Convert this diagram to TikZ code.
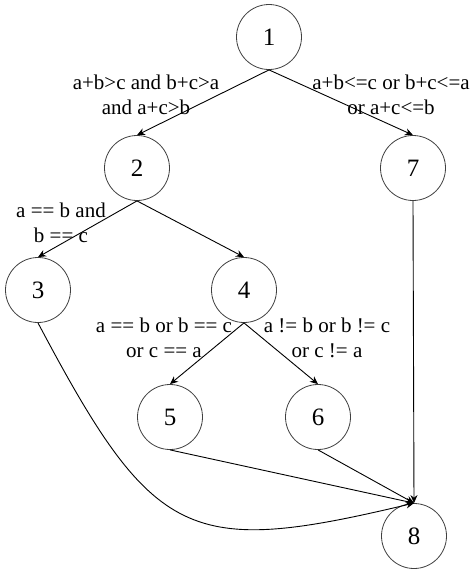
\documentclass[tikz,border=0pt]{standalone}
\usepackage{fontspec}
\setmainfont{Liberation Serif}
\usetikzlibrary{arrows.meta}
\begin{document}
\begin{tikzpicture}[x=1pt,y=-1pt,
  vtx/.style={circle,draw=black!75,line width=0.8pt,minimum size=65pt,inner sep=0pt,font=\fontsize{25}{25}\selectfont},
  lbl/.style={align=center,inner sep=0pt,font=\fontsize{21}{25}\selectfont},
  edge/.style={line width=0.9pt,-{Stealth[length=8pt,width=7pt]}}]
\useasboundingbox (0,0) rectangle (474,574);
\node[vtx] (n1) at (269,37) {1};
\node[vtx] (n2) at (137,168) {2};
\node[vtx] (n7) at (413,168) {7};
\node[vtx] (n3) at (38,290) {3};
\node[vtx] (n4) at (244,290) {4};
\node[vtx] (n5) at (170,417) {5};
\node[vtx] (n6) at (318,417) {6};
\node[vtx] (n8) at (414,536) {8};
\node[lbl] (l12) at (146,95) {a+b>c and b+c>a\\and a+c>b};
\node[lbl] (l17) at (391,95) {a+b<=c or b+c<=a\\or a+c<=b};
\node[lbl] (l23) at (61,223) {a == b and\\b == c};
\node[lbl] (l45) at (164,338) {a == b or b == c\\or c == a};
\node[lbl] (l46) at (327,338) {a != b or b != c\\or c != a};
\draw[edge] (n1.south) -- (n2.north);
\draw[edge] (n1.south) -- (n7.north);
\draw[edge] (n2.south) -- (n3.north);
\draw[edge] (n2.south) -- (n4.north);
\draw[edge] (n4.south) -- (n5.north);
\draw[edge] (n4.south) -- (n6.north);
\draw[edge] (n7.south) -- (n8.north);
\draw[edge] (n5.south) -- (n8.north);
\draw[edge] (n6.south) -- (n8.north);
\draw[edge] (n3.south) .. controls (154,542) and (188,557) .. (n8.north);
\end{tikzpicture}
\end{document}
